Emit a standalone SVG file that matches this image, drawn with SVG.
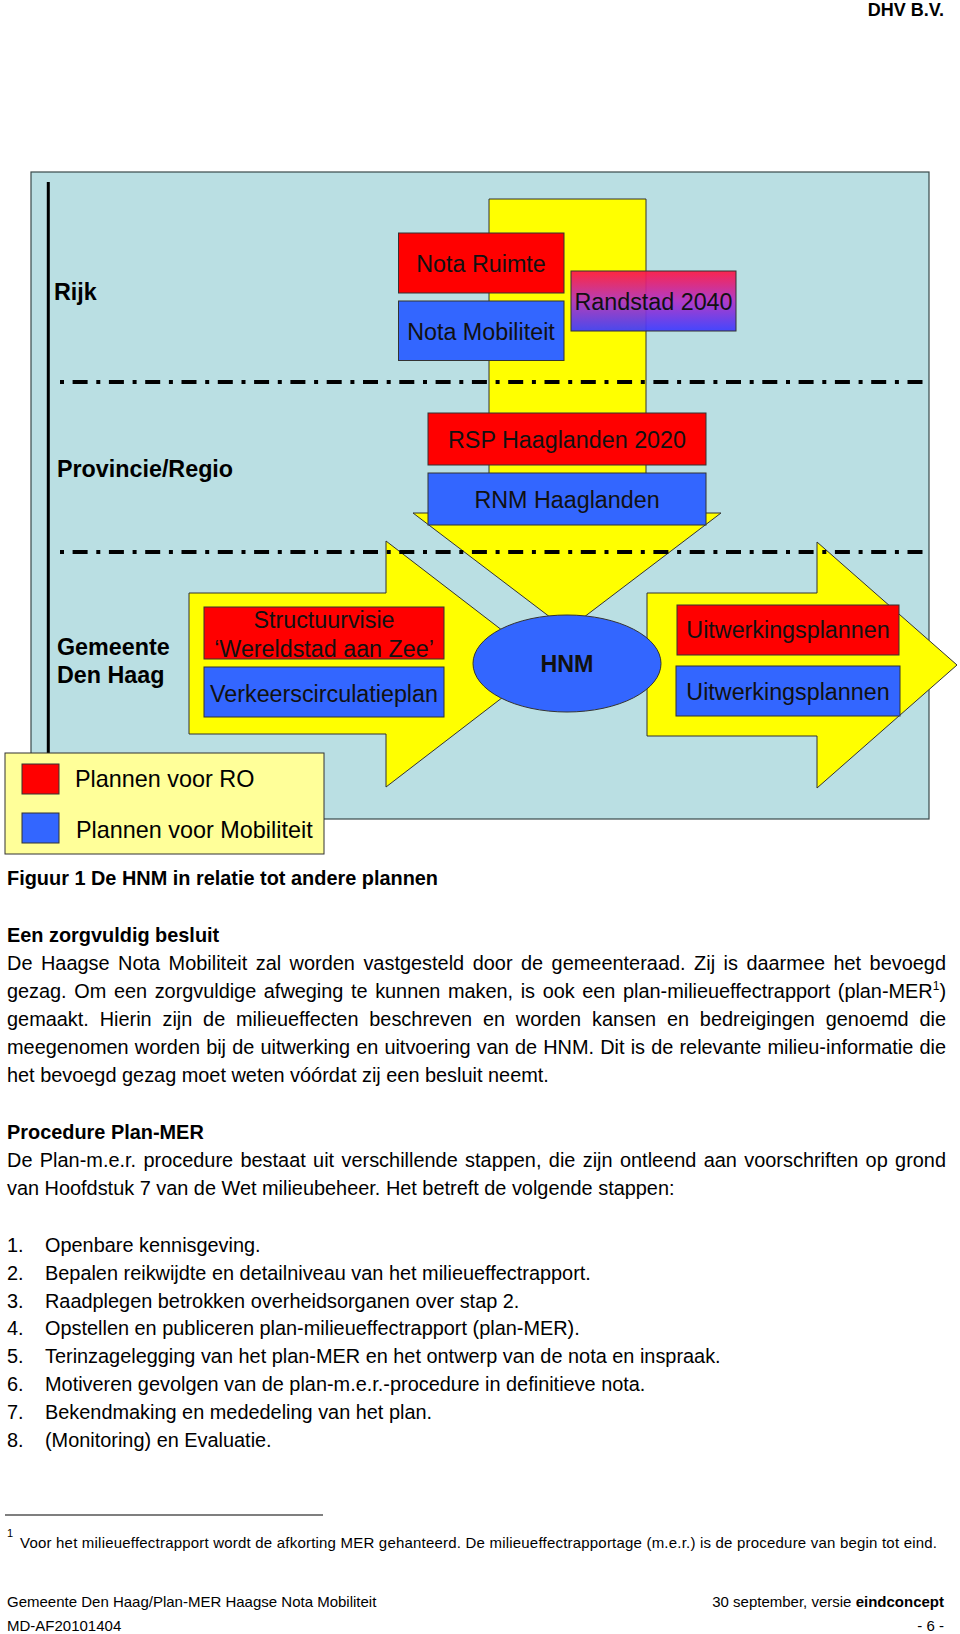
<svg xmlns="http://www.w3.org/2000/svg" width="960" height="1634" viewBox="0 0 960 1634">
<defs>
<style>
.t{font-family:"Liberation Sans",Arial,Helvetica,sans-serif;fill:#000}
.lbl{font-size:23.3px;font-weight:bold}
.box{font-size:23.3px;text-anchor:middle;fill:#111}
.red{fill:#ff0000;stroke:#333;stroke-width:1}
.blue{fill:#3366ff;stroke:#333;stroke-width:1}
.yel{fill:#ffff00;stroke:#333;stroke-width:1}
.dash{stroke:#000;stroke-width:4;stroke-dasharray:4 8.6 15 8.7;fill:none}
.body{font-size:19.9px}
.b{font-weight:bold}
.foot{font-size:15px}
</style>
<linearGradient id="gRand" x1="0" y1="0" x2="0" y2="1">
<stop offset="0" stop-color="#ff1744"/>
<stop offset="0.5" stop-color="#b02fc6"/>
<stop offset="1" stop-color="#3b3bff"/>
</linearGradient>
</defs>
<rect x="0" y="0" width="960" height="1634" fill="#fff"/>

<text class="t b" x="944" y="16" text-anchor="end" font-size="18">DHV B.V.</text>

<g id="diagram">
<rect id="panel" x="31" y="172" width="898" height="647" fill="#badfe3" stroke="#3a4a4a" stroke-width="1.2"/>
<line id="axis" x1="48.3" y1="182" x2="48.3" y2="760" stroke="#000" stroke-width="3"/>

<g id="connectors">
<polygon id="arrow-down" class="yel" points="489,199 646,199 646,513 721,513 567,630 413,513 489,513"/>
<polygon id="arrow-left" class="yel" points="189,593 386,593 386,541 546,664 386,787 386,734 189,734"/>
<polygon id="arrow-right" class="yel" points="647,593 817,593 817,542 957,665 817,788 817,736 647,736"/>
</g>

<g id="separators">
<line class="dash" x1="60" y1="382" x2="922.5" y2="382"/>
<line class="dash" x1="60" y1="552" x2="922.5" y2="552"/>
</g>

<g id="levels">
<text class="t lbl" x="54" y="300">Rijk</text>
<text class="t lbl" x="57" y="477">Provincie/Regio</text>
<text class="t lbl" x="57" y="655">Gemeente</text>
<text class="t lbl" x="57" y="683">Den Haag</text>
</g>

<g id="nota-ruimte"><rect class="red" x="398.5" y="233" width="165.5" height="60"/><text class="t box" x="481" y="272">Nota Ruimte</text></g>
<g id="nota-mobiliteit"><rect class="blue" x="398.5" y="301" width="165.5" height="59.5"/><text class="t box" x="481" y="340">Nota Mobiliteit</text></g>
<g id="randstad-2040"><rect x="571" y="271" width="165" height="60" fill="url(#gRand)" fill-opacity="0.93" stroke="#333" stroke-width="1"/><text class="t box" x="653.5" y="310">Randstad 2040</text></g>
<g id="rsp-haaglanden"><rect class="red" x="428" y="413" width="278" height="52"/><text class="t box" x="567" y="448">RSP Haaglanden 2020</text></g>
<g id="rnm-haaglanden"><rect class="blue" x="428" y="473" width="278" height="52"/><text class="t box" x="567" y="507.5">RNM Haaglanden</text></g>
<g id="structuurvisie"><rect class="red" x="204" y="607" width="240" height="52"/><text class="t box" x="324" y="628">Structuurvisie</text><text class="t box" x="324" y="657">‘Wereldstad aan Zee’</text></g>
<g id="verkeerscirculatieplan"><rect class="blue" x="204" y="667" width="240" height="50"/><text class="t box" x="324" y="702">Verkeerscirculatieplan</text></g>
<g id="hnm"><ellipse class="blue" cx="567" cy="663.5" rx="94" ry="48.5"/><text class="t box b" x="567" y="672">HNM</text></g>
<g id="uitwerkingsplannen-ro"><rect class="red" x="677" y="605" width="222" height="50"/><text class="t box" x="788" y="638">Uitwerkingsplannen</text></g>
<g id="uitwerkingsplannen-mob"><rect class="blue" x="676" y="666" width="224" height="50"/><text class="t box" x="788" y="700">Uitwerkingsplannen</text></g>

<g id="legend">
<rect x="5" y="753" width="319" height="101" fill="#ffff99" stroke="#333" stroke-width="1"/>
<rect class="red" x="22" y="764" width="37" height="30"/>
<rect class="blue" x="22" y="813" width="37" height="30"/>
<text class="t" x="75" y="787" font-size="23.4">Plannen voor RO</text>
<text class="t" x="76" y="838" font-size="23.4">Plannen voor Mobiliteit</text>
</g>
</g>

<g id="text-body" class="t body">
<text class="t b" x="7" y="885">Figuur 1 De HNM in relatie tot andere plannen</text>
<text class="t b" x="7" y="942">Een zorgvuldig besluit</text>
<text x="7" y="970" word-spacing="2.9" textLength="939" lengthAdjust="spacing">De Haagse Nota Mobiliteit zal worden vastgesteld door de gemeenteraad. Zij is daarmee het bevoegd</text>
<text x="7" y="998" word-spacing="2.1" textLength="939" lengthAdjust="spacing">gezag. Om een zorgvuldige afweging te kunnen maken, is ook een plan-milieueffectrapport (plan-MER<tspan font-size="12" dy="-8">1</tspan><tspan dy="8">)</tspan></text>
<text x="7" y="1026" word-spacing="5.25" textLength="939" lengthAdjust="spacing">gemaakt. Hierin zijn de milieueffecten beschreven en worden kansen en bedreigingen genoemd die</text>
<text x="7" y="1054" word-spacing="0.6" textLength="939" lengthAdjust="spacing">meegenomen worden bij de uitwerking en uitvoering van de HNM. Dit is de relevante milieu-informatie die</text>
<text x="7" y="1082">het bevoegd gezag moet weten vóórdat zij een besluit neemt.</text>

<text class="t b" x="7" y="1139">Procedure Plan-MER</text>
<text x="7" y="1167" word-spacing="1.8" textLength="939" lengthAdjust="spacing">De Plan-m.e.r. procedure bestaat uit verschillende stappen, die zijn ontleend aan voorschriften op grond</text>
<text x="7" y="1195">van Hoofdstuk 7 van de Wet milieubeheer. Het betreft de volgende stappen:</text>

<text x="7" y="1252">1.</text><text x="45" y="1252">Openbare kennisgeving.</text>
<text x="7" y="1279.8">2.</text><text x="45" y="1279.8">Bepalen reikwijdte en detailniveau van het milieueffectrapport.</text>
<text x="7" y="1307.6">3.</text><text x="45" y="1307.6">Raadplegen betrokken overheidsorganen over stap 2.</text>
<text x="7" y="1335.4">4.</text><text x="45" y="1335.4">Opstellen en publiceren plan-milieueffectrapport (plan-MER).</text>
<text x="7" y="1363.2">5.</text><text x="45" y="1363.2">Terinzagelegging van het plan-MER en het ontwerp van de nota en inspraak.</text>
<text x="7" y="1391">6.</text><text x="45" y="1391">Motiveren gevolgen van de plan-m.e.r.-procedure in definitieve nota.</text>
<text x="7" y="1418.8">7.</text><text x="45" y="1418.8">Bekendmaking en mededeling van het plan.</text>
<text x="7" y="1446.6">8.</text><text x="45" y="1446.6">(Monitoring) en Evaluatie.</text>
</g>

<g id="footer" class="t foot">
<line x1="5" y1="1515" x2="323" y2="1515" stroke="#000" stroke-width="1.2"/>
<text x="7" y="1537" font-size="11">1</text>
<text x="20" y="1548" textLength="917" lengthAdjust="spacing">Voor het milieueffectrapport wordt de afkorting MER gehanteerd. De milieueffectrapportage (m.e.r.) is de procedure van begin tot eind.</text>
<text x="7" y="1607">Gemeente Den Haag/Plan-MER Haagse Nota Mobiliteit</text>
<text x="7" y="1631">MD-AF20101404</text>
<text x="944" y="1607" text-anchor="end">30 september, versie <tspan font-weight="bold">eindconcept</tspan></text>
<text x="944" y="1631" text-anchor="end">- 6 -</text>
</g>
</svg>
